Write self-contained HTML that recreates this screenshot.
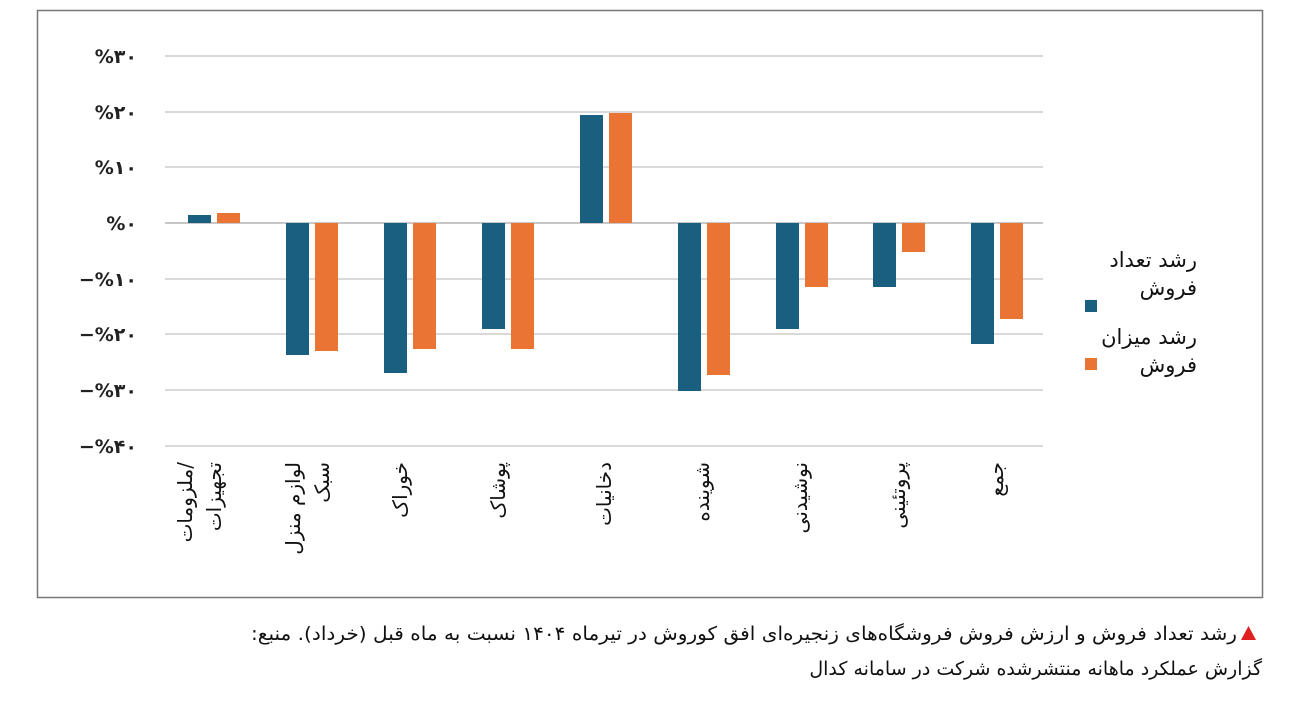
<!DOCTYPE html>
<html><head><meta charset="utf-8"><style>
body{margin:0;background:#fff;width:1302px;height:697px;overflow:hidden}
svg text{font-family:"DejaVu Sans",sans-serif}
</style></head><body>
<svg width="1302" height="697" viewBox="0 0 1302 697">
<rect x="37.5" y="10.5" width="1225" height="587" fill="#fff" stroke="#777" stroke-width="1.5"/>
<g stroke="#d9d9d9" stroke-width="2">
<line x1="165" x2="1043" y1="56" y2="56"/><line x1="165" x2="1043" y1="112" y2="112"/>
<line x1="165" x2="1043" y1="167" y2="167"/><line x1="165" x2="1043" y1="279" y2="279"/>
<line x1="165" x2="1043" y1="334" y2="334"/><line x1="165" x2="1043" y1="390" y2="390"/>
<line x1="165" x2="1043" y1="446" y2="446"/>
</g>
<line x1="165" x2="1043" y1="223" y2="223" stroke="#c8c8c8" stroke-width="2"/>
<g font-size="19" font-weight="bold" fill="#222" text-anchor="end">
<text x="137" y="63">%۳۰</text><text x="137" y="119">%۲۰</text><text x="137" y="174">%۱۰</text>
<text x="137" y="230">%۰</text><text x="137" y="286">−%۱۰</text><text x="137" y="341">−%۲۰</text>
<text x="137" y="397">−%۳۰</text><text x="137" y="453">−%۴۰</text>
</g>
<g fill="#1a5e80">
<rect x="188" y="215" width="23" height="8"/>
<rect x="286" y="223" width="23" height="132"/>
<rect x="384" y="223" width="23" height="150"/>
<rect x="482" y="223" width="23" height="106"/>
<rect x="580" y="115" width="23" height="108"/>
<rect x="678" y="223" width="23" height="168"/>
<rect x="776" y="223" width="23" height="106"/>
<rect x="873" y="223" width="23" height="64"/>
<rect x="971" y="223" width="23" height="121"/>
</g>
<g fill="#ea7434">
<rect x="217" y="213" width="23" height="10"/>
<rect x="315" y="223" width="23" height="128"/>
<rect x="413" y="223" width="23" height="126"/>
<rect x="511" y="223" width="23" height="126"/>
<rect x="609" y="113" width="23" height="110"/>
<rect x="707" y="223" width="23" height="152"/>
<rect x="805" y="223" width="23" height="64"/>
<rect x="902" y="223" width="23" height="29"/>
<rect x="1000" y="223" width="23" height="96"/>
</g>
<g font-size="20" fill="#111" text-anchor="end" dominant-baseline="central">
<text transform="translate(185,462) rotate(-90)">ملزومات/</text>
<text transform="translate(214,462) rotate(-90)">تجهیزات</text>
<text transform="translate(293,462) rotate(-90)">لوازم منزل</text>
<text transform="translate(322,462) rotate(-90)">سبک</text>
<text transform="translate(400,462) rotate(-90)">خوراک</text>
<text transform="translate(498,462) rotate(-90)">پوشاک</text>
<text transform="translate(604,462) rotate(-90)">دخانیات</text>
<text transform="translate(702,462) rotate(-90)">شوینده</text>
<text transform="translate(800,462) rotate(-90)">نوشیدنی</text>
<text transform="translate(898,462) rotate(-90)">پروتئینی</text>
<text transform="translate(996,462) rotate(-90)">جمع</text>
</g>
<rect x="1085" y="300" width="12" height="12" fill="#1a5e80"/>
<rect x="1085" y="358" width="12" height="12" fill="#ea7434"/>
<g font-size="21" fill="#111" text-anchor="end">
<text x="1197" y="267">رشد تعداد</text><text x="1197" y="295">فروش</text>
<text x="1197" y="344">رشد میزان</text><text x="1197" y="372">فروش</text>
</g>
<polygon points="1241,640 1256,640 1248.5,626" fill="#e02020"/>
<g font-size="19" fill="#111" direction="rtl" text-anchor="start">
<text x="1237" y="640" textLength="986" lengthAdjust="spacingAndGlyphs">رشد تعداد فروش و ارزش فروش فروشگاه‌های زنجیره‌ای افق کوروش در تیرماه ۱۴۰۴ نسبت به ماه قبل (خرداد). منبع:</text>
<text x="1262" y="675">گزارش عملکرد ماهانه منتشرشده شرکت در سامانه کدال</text>
</g>
</svg>
</body></html>
